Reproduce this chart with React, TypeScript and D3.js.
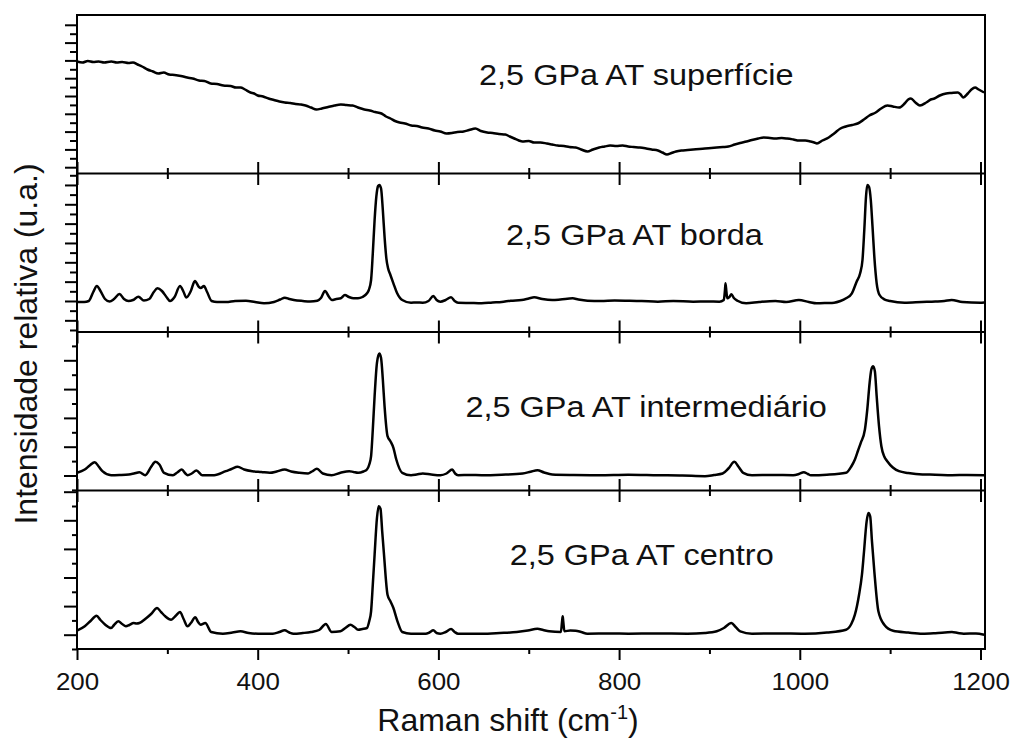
import React, { useRef, useEffect } from 'react';
import * as d3 from 'd3';

// Raman spectra, [Raman shift (cm-1), relative intensity (a.u., 0 = panel floor)]
const superficie: [number, number][] = [
  [200,112],[206,111],[212,112.5],[218,111.5],[224,112],[230,111],[238,112],[244,111],[250,111.5],[257,110.5],
  [262,111],[267,109],[272,107],[278,104],[284,102],[290,100],[296,101],[302,99],[308,98.5],[315,97.5],
  [322,96],[328,95],[335,93],[341,92.5],[348,90],[355,89.5],[362,88],[370,87.5],[376,86],[381,86],
  [386,84],[392,81],[396,80],[400,78],[406,77],[412,75],[418,73.5],[424,72],[430,71],[436,70.5],
  [442,69.5],[448,69],[453,68],[459,66],[465,64],[471,65],[478,66.5],[485,68],[492,69],[498,68.5],
  [505,68],[511,66],[518,64],[524,63],[530,61.5],[537,60],[542,57],[547,55],[552,52.5],[557,51],
  [563,50],[570,48],[576,47.5],[582,46],[589,45],[596,43],[602,42],[609,40],[615,40.5],[621,41.5],
  [628,42],[634,43.5],[641,45],[647,42.5],[654,41],[660,40.5],[667,39.5],[674,39],[679,37],[684,35],
  [689,33],[693,32],[700,32.5],[706,31],[713,31],[720,30],[726,29],[732,28],[739,27.5],[745,26.5],
  [752,26],[758,24],[765,22],[771,24],[778,26],[784,27],[790,28],[797,27.5],[804,28],[810,27],
  [816,26.5],[823,26],[830,25],[836,24],[843,23],[848,21],[853,19],[858,20.5],[863,22],[869,23],
  [876,23.5],[882,24],[889,24.5],[895,25],[902,25.5],[908,26],[915,26.5],[921,27],[928,29],[934,30.5],
  [941,32],[947,33.5],[954,35],[960,36],[967,35.5],[973,35],[980,35.5],[986,35],[993,34],[999,33],
  [1006,33],[1012,32],[1016,31],[1019,30],[1025,33],[1032,36],[1038,40],[1045,45],[1051,47],[1058,48.5],
  [1064,50],[1071,54],[1077,58],[1084,61],[1090,65],[1097,68],[1103,67],[1110,66],[1116,70],[1120,74],
  [1123,75],[1128,71],[1133,68],[1140,71],[1145,74],[1149,75],[1155,78],[1162,80],[1168,80.5],[1175,81],
  [1178,79],[1181,76],[1186,80],[1190,84],[1194,86],[1198,84],[1204,81],
];

const borda: [number, number][] = [
  [200,30],[208,30],[213,31],[218,40],[222,46],[226,41],[231,33],[236,30.5],[241,33],[247,38],
  [252,33],[257,31],[262,32],[268,35.3],[274,31.5],[280,33],[285,40],[289,43.7],[294,41],[299,35],
  [303,31],[308,35],[314,46],[318,40],[321,34.5],[326,41],[330.5,51],[335,45],[337,44],[340.5,46],
  [344,40],[349,31],[355,30],[365,30],[375,31],[387,31.3],[397,30],[407,28.7],[418,30],[425,32.5],
  [430,34.3],[435,33],[440,32],[450,31],[458,30.5],[466,31.3],[470,34],[474.5,41],[479,35],[482,32],
  [487,33],[492,33.7],[496.5,37],[501,35],[506,33.7],[511,33.7],[516,35],[521,38.7],[523,42],[525.5,52],
  [527.4,78.7],[529.4,112],[531.3,135.3],[533.3,146],[534.6,147],[536.5,143.7],[538.5,122],[540.4,95.3],[542.4,73.7],[544.3,63.7],
  [546.9,57],[550.2,48.7],[554.1,39.3],[560,32],[569.7,29.3],[576,29.5],[582.7,29.3],[589,31],[594.4,36],[598,32],
  [602.2,30.3],[608,32],[614,34.7],[618,31],[621.8,29.3],[635,29],[647.8,28.7],[660,29.5],[670,30],[680,31.3],
  [692,32],[700,33.5],[706,34.7],[715,33],[726,32],[735,32.5],[748.6,33.7],[755,32.5],[765,31.3],[780,31],
  [795,31.5],[810,31.3],[825,31],[843,30.3],[860,31],[882,30.3],[898,30.5],[911,30.3],[915.9,32],[917.2,42],
  [917.8,48.7],[918.8,40],[919.8,33.7],[922,35],[924.3,37.7],[927,34],[931,31.3],[940.6,28.7],[955,30],[973,31],
  [985,30],[999,32],[1010,30],[1018.7,28.7],[1030,29],[1038,29.3],[1045,31],[1051.2,33.7],[1057.7,38.7],[1062.9,50.3],
  [1066.8,58.7],[1069.4,72],[1071.4,102],[1073.3,135.3],[1074.7,147],[1076.6,145.3],[1078.6,132],[1080.5,105.3],[1082.5,75.3],[1085.1,48.7],
  [1088.3,37],[1093.5,32.7],[1100,31],[1116,29.3],[1135,30],[1150,30.5],[1160,31],[1168,32],[1180,30],[1200,29.3],
  [1204,29.5],
];

const intermediario: [number, number][] = [
  [200,17.7],[208.6,21],[214,25],[219.6,28.3],[224,24],[228.1,19.3],[237.8,15.3],[247,15.5],[257.4,16],[263,17],
  [269.1,18.3],[275.6,15.3],[282.1,23.7],[286.7,28.7],[291.2,26],[296.4,17.7],[306.2,15.3],[311,18],[316,21],[320,17],
  [322.4,15.3],[327,17],[332.2,20],[338.7,15.3],[351.7,15.3],[364.7,19.3],[371,21.5],[377.8,23.7],[385,21],[394,19.3],
  [404,18.5],[413.5,17.7],[421,19],[429.8,21],[437,19],[446.1,17.7],[455.8,17],[460,19],[465.6,21.7],[472.1,17],
  [481.9,15.3],[491.6,17.7],[501.4,19.3],[506,18.5],[511.1,17.7],[517,19],[520.9,21],[523.5,26],[525.5,34.3],[527.4,61],
  [529.4,94.3],[532,127.7],[534.6,137],[536.5,132.7],[538.5,111],[540.4,84.3],[543.7,54.3],[546.9,49.3],[550.2,42.7],[553.4,31],
  [560,17.7],[569.7,15.3],[576,16],[582.7,17],[592,16],[602.2,15.3],[609,17],[615.3,21],[618.5,17],[621.8,15.3],
  [635,15.5],[647.8,15.3],[670,15.8],[693.3,17],[702,18.8],[709.6,20.3],[717,18],[725.9,16],[750,15.5],[777.9,15.3],
  [810,15.8],[843,15.3],[870,15],[895.1,14.3],[905,15.5],[914.6,17],[921,22],[927.6,28.7],[932,24],[937.4,17.7],
  [947.1,15.3],[970,15.5],[992.7,15.3],[999,16.5],[1004.4,18.3],[1009,16.5],[1012.2,15.3],[1030,15.8],[1051.2,17.7],[1057,24],
  [1061,31],[1064.5,40],[1067.5,47.7],[1072.1,61],[1074.7,81],[1077.3,107.7],[1079.2,121],[1081.2,124.3],[1083.1,119.3],[1085.1,94.3],
  [1087.7,64.3],[1090.3,44.3],[1093.5,34],[1096.8,29.3],[1103,23],[1109.8,19.3],[1120,17.5],[1135.8,16],[1150,15.8],[1168.4,15.3],
  [1185,15.5],[1204,15.3],
];

const centro: [number, number][] = [
  [200,18.3],[208.6,22.7],[215,28],[221.6,33.3],[226,29],[231.3,24.3],[237.8,21],[241,24],[245.7,27.7],[250,25],
  [254.1,22.7],[258,24],[262.6,26],[266,25.5],[269.1,26],[276.9,31],[282,35],[288.6,41],[293,37],[297.7,32.7],
  [304.2,29.3],[309,33],[314,37],[318,30],[322.4,22.7],[326,26],[330.9,31.7],[334,27],[336.8,24.3],[342,26],
  [348.5,17],[361.5,15.3],[372,16.5],[381,17.7],[390,16],[400.5,15.3],[416.8,15.3],[424,17],[429.8,18.7],[435,16.5],
  [439.6,15.3],[450,16],[459.1,17],[468,19],[475.4,25],[481.9,17],[491.6,17.7],[497,21],[502.7,24.3],[507,22],
  [511.1,19.3],[516,20],[520.9,21],[523.5,28],[525.5,37.7],[527.4,64.3],[529.4,94.3],[532,131],[533.9,142.7],[535.9,140.3],
  [537.8,117.7],[539.8,94.3],[543.7,54.3],[546.9,47.7],[550.2,41],[554.7,27.7],[560,17],[569.7,15.3],[586,15.3],[590,16.5],
  [594.4,18.7],[598,16],[602.2,15.3],[608,17],[614,20],[618,17],[621.8,15.3],[647.8,15.3],[668,16],[686.8,17],
  [699,18.5],[709.6,20.3],[716,19],[722.6,17.7],[735.6,17],[736.9,27.7],[737.6,32.7],[738.2,27.7],[739.5,17.7],[746,18.5],
  [751.9,18.3],[758,17],[764.9,15.3],[790,15.5],[810.5,15.3],[840,15.5],[875.5,15.3],[895,16],[908.1,17.7],[916,21],
  [924.3,26],[929,22],[934.1,17.7],[947.1,15.3],[975,15.5],[1005.7,15.3],[1030,16.5],[1051.2,19.3],[1057,25],[1061,34.3],
  [1065.6,54.3],[1068.8,74.3],[1070.8,94.3],[1074,127.7],[1076,136],[1077.9,132.7],[1079.9,107.7],[1082.5,77.7],[1087,37.7],[1093.5,24.3],
  [1103.3,18.3],[1120,16.5],[1135.8,15.3],[1150,15.8],[1168.4,17],[1175,16],[1181.4,15.3],[1195,15.5],[1204,14.3],
];

const spectra = [superficie, borda, intermediario, centro];
const sampleLabels = ['2,5 GPa AT superfície', '2,5 GPa AT borda', '2,5 GPa AT intermediário', '2,5 GPa AT centro'];
const xTicks = [200, 300, 400, 500, 600, 700, 800, 900, 1000, 1100, 1200];
const xTickLabels = [200, 400, 600, 800, 1000, 1200];

// where each label sits (data units of its panel)
const labelPos = [
  { x: 819, y: 88.5 },
  { x: 817, y: 87 },
  { x: 830, y: 73.5 },
  { x: 825, y: 84 },
];
// left tick layout per panel
const yTickCfg = [
  { start: 6.3, step: 8.9, majorParity: 0, major: 12, minor: 7 },
  { start: 2, step: 9.67, majorParity: 1, major: 12, minor: 7 },
  { start: 0.6, step: 14.4, majorParity: 1, major: 13, minor: 5 },
  { start: 0, step: 14.3, majorParity: 1, major: 13, minor: 5 },
];

const FONT = "'Liberation Sans', Arial, sans-serif";

export default function App() {
  const ref = useRef<SVGSVGElement>(null);
  const width = 1013, height = 745;
  const margin = { left: 77, right: 28, top: 15, bottom: 96 };

  useEffect(() => {
    const svg = d3.select(ref.current);
    svg.selectAll('*').remove();

    const plotTop = margin.top, plotBottom = height - margin.bottom;
    const x0 = margin.left, x1 = width - margin.right;
    const panelH = (plotBottom - plotTop) / spectra.length;
    const x = d3.scaleLinear().domain([200, 1205]).range([x0, x1]);
    const isMajor = (v: number) => xTickLabels.includes(v);

    spectra.forEach((data, i) => {
      const top = plotTop + i * panelH, bottom = top + panelH;
      const y = d3.scaleLinear().domain([0, panelH]).range([bottom, top]);
      const g = svg.append('g');

      // left ticks
      const cfg = yTickCfg[i];
      const vals = d3.range(cfg.start, panelH - 1, cfg.step);
      const majors = vals.filter((_, k) => k % 2 === cfg.majorParity);
      const minors = vals.filter((_, k) => k % 2 !== cfg.majorParity);
      [[majors, cfg.major], [minors, cfg.minor]].forEach(([tv, len]) => {
        g.append('g').attr('transform', `translate(${x0},0)`)
          .call(d3.axisLeft(y).tickValues(tv as number[]).tickSize(len as number).tickFormat(() => ''))
          .call(a => a.select('.domain').remove())
          .call(a => a.selectAll('line').attr('stroke', '#000').attr('stroke-width', 2));
      });

      // ticks on the panel boundary between spectra
      if (i > 0) {
        [d3.axisBottom, d3.axisTop].forEach(mk => {
          [[xTicks.filter(isMajor), 11.5], [xTicks.filter(v => !isMajor(v)), 5.5]].forEach(([tv, len]) => {
            g.append('g').attr('transform', `translate(0,${top})`)
              .call(mk(x).tickValues(tv as number[]).tickSize(len as number).tickFormat(() => ''))
              .call(a => a.select('.domain').remove())
              .call(a => a.selectAll('line').attr('stroke', '#000').attr('stroke-width', 2));
          });
        });
        g.append('line').attr('x1', x0).attr('x2', x1).attr('y1', top).attr('y2', top)
          .attr('stroke', '#000').attr('stroke-width', 2);
      }

      const line = d3.line<[number, number]>()
        .x(d => x(d[0])).y(d => y(d[1])).curve(d3.curveMonotoneX);
      g.append('path').datum(data).attr('d', line)
        .attr('fill', 'none').attr('stroke', '#000').attr('stroke-width', 2.5)
        .attr('stroke-linejoin', 'round');

      g.append('text')
        .attr('transform', `translate(${x(labelPos[i].x)},${y(labelPos[i].y)}) scale(1.12,1)`)
        .attr('text-anchor', 'middle').attr('font-family', FONT).attr('font-size', 29)
        .attr('fill', '#111').text(sampleLabels[i]);
    });

    // bottom axis
    const bx = svg.append('g').attr('transform', `translate(0,${plotBottom})`);
    bx.append('g')
      .call(d3.axisBottom(x).tickValues(xTicks.filter(v => !isMajor(v))).tickSize(5).tickFormat(() => ''))
      .call(a => a.select('.domain').remove())
      .call(a => a.selectAll('line').attr('stroke', '#000').attr('stroke-width', 2));
    bx.append('g')
      .call(d3.axisBottom(x).tickValues(xTickLabels).tickSize(11).tickFormat(d3.format('d')))
      .call(a => a.select('.domain').remove())
      .call(a => a.selectAll('line').attr('stroke', '#000').attr('stroke-width', 2))
      .call(a => a.selectAll('text').attr('y', 41).attr('dy', 0).attr('fill', '#111')
        .attr('font-size', 24).attr('font-family', FONT).attr('transform', 'scale(1.08,1)'));

    // frame
    svg.append('rect').attr('x', x0).attr('y', plotTop).attr('width', x1 - x0).attr('height', plotBottom - plotTop)
      .attr('fill', 'none').attr('stroke', '#000').attr('stroke-width', 2);

    // axis titles
    const xt = svg.append('text').attr('x', 508).attr('y', 731).attr('text-anchor', 'middle')
      .attr('font-family', FONT).attr('font-size', 32).attr('fill', '#111');
    xt.append('tspan').text('Raman shift (cm');
    xt.append('tspan').attr('dy', -12).attr('font-size', 20).text('-1');
    xt.append('tspan').attr('dy', 12).text(')');

    svg.append('text').attr('transform', 'translate(37,344) rotate(-90)').attr('text-anchor', 'middle')
      .attr('font-family', FONT).attr('font-size', 32).attr('fill', '#111')
      .text('Intensidade relativa (u.a.)');
  }, []);

  return (
    <svg ref={ref} width={width} height={height}
      style={{ position: 'absolute', left: 0, top: 0, background: '#fff' }} />
  );
}
